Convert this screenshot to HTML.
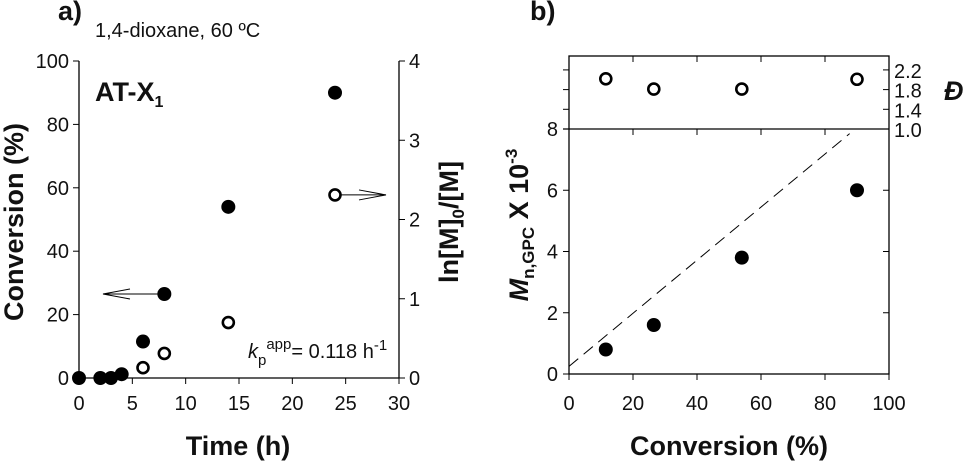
<!DOCTYPE html>
<html><head><meta charset="utf-8"><style>
body{margin:0;background:#fff;}
svg{display:block;font-family:"Liberation Sans",Arial,sans-serif;}
.t{font-size:20px;fill:#111;}
.b{font-size:27px;font-weight:bold;fill:#111;}
</style></head><body>
<svg id="s" width="966" height="466" viewBox="0 0 966 466" xmlns="http://www.w3.org/2000/svg">
<text x="58" y="20" class="b" font-size="21">a)</text>
<text x="95" y="37" class="t" font-size="24">1,4-dioxane, 60 ºC</text>
<text x="530" y="20" class="b" font-size="21">b)</text>
<g id="ga"></g>
<g id="gb"></g>
</svg>
<script>
// Chart a data
const timeA = [0, 2, 3, 4, 6, 8, 14, 24];
const convA = [0, 0, 0, 1.2, 11.5, 26.5, 54, 90];
const timeLn = [6, 8, 14, 24];
const lnA = [0.13, 0.31, 0.70, 2.31];
const xTicksA = [0, 5, 10, 15, 20, 25, 30];
const yTicksA = [0, 20, 40, 60, 80, 100];
const y2TicksA = [0, 1, 2, 3, 4];
// Chart b data
const convB = [11.5, 26.5, 54, 90];
const mnB = [0.8, 1.6, 3.8, 6.0];
const dispB = [2.02, 1.81, 1.81, 2.01];
const theoLine = [[0, 0.25], [87.7, 7.85]];
const xTicksB = [0, 20, 40, 60, 80, 100];
const yTicksB = [0, 2, 4, 6, 8];
const dTicksB = [1.0, 1.4, 1.8, 2.2];

const NS = "http://www.w3.org/2000/svg";
function mk(parent, tag, attrs, text) {
  const e = document.createElementNS(NS, tag);
  for (const k in attrs) e.setAttribute(k, attrs[k]);
  if (text !== undefined) e.textContent = text;
  parent.appendChild(e);
  return e;
}
const ga = document.getElementById('ga');
const gb = document.getElementById('gb');

// ---- Chart a ----
const ax = v => 79 + v / 30 * 320;
const ay = v => 378 - v / 100 * 317;
const ay2 = v => 378 - v / 4 * 317;
mk(ga, 'line', {x1: 79, y1: 61, x2: 79, y2: 378, stroke: '#000', 'stroke-width': 1.3});
mk(ga, 'line', {x1: 399, y1: 61, x2: 399, y2: 378, stroke: '#000', 'stroke-width': 1.3});
mk(ga, 'line', {x1: 79, y1: 378, x2: 399, y2: 378, stroke: '#000', 'stroke-width': 1.3});
let e;
xTicksA.forEach(v => {
  mk(ga, 'line', {x1: ax(v), y1: 378, x2: ax(v), y2: 384, stroke: '#000'});
  e = mk(ga, 'text', {x: ax(v), y: 410, class: 't', 'text-anchor': 'middle'}, v);
  
  
});
yTicksA.forEach(v => {
  mk(ga, 'line', {x1: 73, y1: ay(v), x2: 79, y2: ay(v), stroke: '#000'});
  e = mk(ga, 'text', {x: 69, y: ay(v) + 7, class: 't', 'text-anchor': 'end'}, v);
  
  
});
y2TicksA.forEach(v => {
  mk(ga, 'line', {x1: 399, y1: ay2(v), x2: 405, y2: ay2(v), stroke: '#000'});
  e = mk(ga, 'text', {x: 409, y: ay2(v) + 7, class: 't'}, v);
  
  
});
e = mk(ga, 'text', {x: 238, y: 455, class: 'b', 'text-anchor': 'middle'}, 'Time (h)');


e = mk(ga, 'text', {x: 0, y: 0, class: 'b', 'text-anchor': 'middle', transform: 'translate(23,222) rotate(-90)'}, 'Conversion (%)');


e = mk(ga, 'text', {x: 0, y: 0, class: 'b', 'font-size': '25', 'text-anchor': 'middle', transform: 'translate(458,222) rotate(-90)'});
e.innerHTML = 'ln[M]<tspan font-size="17" dy="6">0</tspan><tspan dy="-6">/[M]</tspan>';


e = mk(ga, 'text', {x: 95, y: 101, class: 'b', 'font-size': '22'});
e.innerHTML = 'AT-X<tspan font-size="16" dy="6">1</tspan>';


e = mk(ga, 'text', {x: 248, y: 358, class: 't', 'font-size': '22'});
e.innerHTML = '<tspan font-style="italic">k</tspan><tspan font-size="15" dy="7">p</tspan><tspan font-size="15" dy="-16">app</tspan><tspan dy="9">= 0.118 h</tspan><tspan font-size="15" dy="-8">-1</tspan>';


// arrows
const arrY1 = ay(convA[5]);
mk(ga, 'line', {x1: ax(timeA[5]), y1: arrY1, x2: 103, y2: arrY1, stroke: '#000'});
e = mk(ga, 'path', {d: `M130 ${arrY1-5} L103 ${arrY1} L130 ${arrY1+5}`, fill: 'none', stroke: '#000'});


const arrY2 = ay2(lnA[3]);
mk(ga, 'line', {x1: ax(timeLn[3]), y1: arrY2, x2: 386, y2: arrY2, stroke: '#000'});
e = mk(ga, 'path', {d: `M359 ${arrY2-5} L386 ${arrY2} L359 ${arrY2+5}`, fill: 'none', stroke: '#000'});


timeA.forEach((t, i) => {
  e = mk(ga, 'circle', {cx: ax(t), cy: ay(convA[i]), r: 7, fill: '#000'});
  
  
});
timeLn.forEach((t, i) => {
  e = mk(ga, 'circle', {cx: ax(t), cy: ay2(lnA[i]), r: 5.5, fill: '#fff', stroke: '#000', 'stroke-width': 2.6});
  
  
});

// ---- Chart b ----
const bx = v => 569 + v / 100 * 320;
const by = v => 374 - v / 8 * 245;
const dy = v => 129 - (v - 1) / 0.4 * 19.7;
mk(gb, 'rect', {x: 569, y: 56, width: 320, height: 318, fill: 'none', stroke: '#000', 'stroke-width': 1.3});
mk(gb, 'line', {x1: 563, y1: 129, x2: 889, y2: 129, stroke: '#000', 'stroke-width': 1.3});
xTicksB.forEach(v => {
  mk(gb, 'line', {x1: bx(v), y1: 374, x2: bx(v), y2: 380, stroke: '#000'});
  mk(gb, 'line', {x1: bx(v), y1: 129, x2: bx(v), y2: 135, stroke: '#000'});
  mk(gb, 'line', {x1: bx(v), y1: 56, x2: bx(v), y2: 62, stroke: '#000'});
  e = mk(gb, 'text', {x: bx(v), y: 410, class: 't', 'text-anchor': 'middle'}, v);
  
  
});
yTicksB.forEach(v => {
  mk(gb, 'line', {x1: 563, y1: by(v), x2: 569, y2: by(v), stroke: '#000'});
  mk(gb, 'line', {x1: 883, y1: by(v), x2: 889, y2: by(v), stroke: '#000'});
  e = mk(gb, 'text', {x: 558, y: by(v) + 7, class: 't', 'text-anchor': 'end'}, v);
  
  
});
dTicksB.forEach(v => {
  mk(gb, 'line', {x1: 563, y1: dy(v), x2: 569, y2: dy(v), stroke: '#000'});
  mk(gb, 'line', {x1: 883, y1: dy(v), x2: 889, y2: dy(v), stroke: '#000'});
  e = mk(gb, 'text', {x: 894, y: dy(v) + 8, class: 't'}, v.toFixed(1));
  
  
});
e = mk(gb, 'text', {x: 944, y: 100, class: 'b', 'font-style': 'italic'}, 'Đ');


e = mk(gb, 'text', {x: 729, y: 455, class: 'b', 'text-anchor': 'middle'}, 'Conversion (%)');


e = mk(gb, 'text', {x: 0, y: 0, class: 'b', 'text-anchor': 'middle', transform: 'translate(528,225) rotate(-90)'});
e.innerHTML = '<tspan font-style="italic">M</tspan><tspan font-size="17" dy="6">n,GPC</tspan><tspan dy="-6"> X 10</tspan><tspan font-size="17" dy="-11">-3</tspan>';


e = mk(gb, 'line', {x1: bx(theoLine[0][0]), y1: by(theoLine[0][1]), x2: bx(theoLine[1][0]), y2: by(theoLine[1][1]), stroke: '#000', 'stroke-dasharray': '12,7', 'stroke-width': 1});


convB.forEach((c, i) => {
  e = mk(gb, 'circle', {cx: bx(c), cy: by(mnB[i]), r: 7, fill: '#000'});
  
  
  e = mk(gb, 'circle', {cx: bx(c), cy: dy(dispB[i]), r: 5.5, fill: '#fff', stroke: '#000', 'stroke-width': 2.6});
  
  
});
</script>
</body></html>
